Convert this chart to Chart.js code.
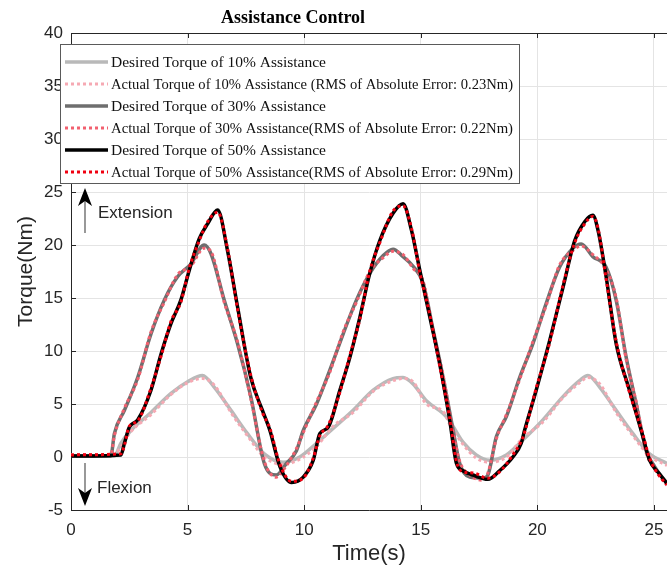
<!DOCTYPE html>
<html>
<head>
<meta charset="utf-8">
<title>Assistance Control</title>
<script src="https://cdn.jsdelivr.net/npm/chart.js@4.4.1/dist/chart.umd.min.js"></script>
<style>
  html, body { margin: 0; padding: 0; background: #fff; }
  canvas { display: block; }
</style>
</head>
<body>
<canvas id="torqueChart" width="667" height="571"></canvas>
<script>
// time stamps (s), one list per assistance level
const t10 = [0, 1.86, 2.14, 2.57, 3.43, 4.29, 5.0, 5.64, 6.14, 6.86, 7.57, 8.29, 9.1, 9.81, 10.53, 11.24, 12.1, 12.96, 13.81, 14.24, 14.67, 15.24, 15.96, 16.24, 16.81, 17.38, 17.95, 18.67, 19.38, 20.24, 21.1, 21.81, 22.17, 22.67, 23.38, 24.1, 24.81, 25.56];
const desired10 = [0.1, 0.1, 1.3, 2.5, 4.2, 6.0, 7.1, 7.7, 6.6, 4.4, 2.2, 0.3, -0.5, 0.0, 1.3, 2.7, 4.4, 6.3, 7.4, 7.5, 6.9, 5.3, 4.1, 3.4, 1.4, 0.2, -0.3, 0.2, 1.6, 3.5, 5.7, 7.2, 7.7, 6.6, 4.4, 2.2, 0.3, -0.6];
const actual10 = [0.2, 0.2, 1.0, 2.4, 4.0, 5.9, 7.0, 7.4, 6.8, 4.2, 2.0, 0.0, -0.7, -0.2, 1.0, 2.9, 4.2, 6.2, 7.2, 7.4, 7.1, 5.0, 4.3, 3.1, 1.2, -0.1, -0.5, 0.0, 1.8, 3.3, 5.6, 7.0, 7.5, 6.9, 4.2, 2.0, 0.1, -0.8];

const t30 = [0, 1.71, 1.86, 2.29, 2.86, 3.43, 4.0, 4.57, 5.14, 5.71, 6.0, 6.57, 7.14, 7.71, 8.29, 8.8, 9.24, 9.67, 9.96, 10.53, 11.1, 11.67, 12.24, 12.81, 13.39, 13.81, 14.24, 14.67, 15.1, 15.53, 15.96, 16.39, 16.67, 17.1, 17.67, 17.88, 18.24, 18.67, 19.24, 19.81, 20.38, 20.95, 21.53, 21.88, 22.38, 22.95, 23.38, 23.81, 24.24, 24.67, 25.03, 25.56];
const desired30 = [0.1, 0.1, 2.2, 4.4, 7.5, 11.6, 14.8, 17.0, 18.2, 20.0, 19.2, 14.8, 10.7, 5.7, -0.6, -1.7, -0.6, 0.6, 2.5, 5.0, 8.2, 11.6, 14.8, 17.3, 19.0, 19.6, 18.9, 18.0, 16.4, 12.0, 7.5, 2.5, -0.6, -1.9, -2.0, -1.7, 1.9, 3.8, 7.5, 10.7, 14.5, 17.9, 19.7, 20.1, 18.9, 17.9, 14.8, 9.4, 5.0, 0.6, -0.9, -2.5];
const actual30 = [0.2, 0.2, 2.0, 4.6, 7.3, 11.8, 14.6, 17.2, 18.0, 19.7, 19.4, 14.6, 10.9, 5.5, -0.4, -1.9, -0.8, 0.8, 2.3, 5.2, 8.0, 11.8, 14.6, 17.5, 18.8, 19.4, 19.1, 17.8, 16.6, 11.8, 7.7, 2.3, -0.4, -1.7, -2.2, -1.5, 1.7, 4.0, 7.3, 10.9, 14.3, 18.1, 19.5, 19.9, 19.1, 17.7, 15.0, 9.2, 5.2, 0.4, -1.1, -2.7];

const t50 = [0, 2.14, 2.29, 2.5, 2.86, 3.43, 3.86, 4.29, 4.71, 5.07, 5.5, 5.86, 6.29, 6.71, 7.14, 7.71, 8.21, 8.53, 8.96, 9.46, 9.96, 10.39, 10.67, 11.03, 11.53, 11.96, 12.39, 12.81, 13.24, 13.81, 14.24, 14.6, 14.96, 15.39, 15.81, 16.24, 16.53, 16.81, 17.24, 17.88, 18.38, 18.95, 19.31, 19.45, 19.95, 20.53, 21.1, 21.6, 22.03, 22.38, 22.6, 22.95, 23.38, 23.95, 24.53, 24.81, 25.24, 25.56];
const desired50 = [0.1, 0.2, 1.3, 2.8, 3.5, 6.3, 9.7, 12.6, 14.8, 17.6, 20.6, 22.0, 23.3, 19.5, 14.2, 7.5, 4.4, 2.5, -0.9, -2.4, -1.9, -0.3, 2.2, 2.8, 6.3, 9.4, 13.2, 17.3, 20.4, 23.0, 23.9, 21.4, 17.6, 13.2, 8.8, 3.5, -0.6, -1.3, -1.7, -2.1, -1.3, 0.0, 1.3, 2.5, 6.3, 11.0, 16.0, 20.4, 22.2, 22.8, 21.4, 17.0, 10.7, 6.3, 1.9, -0.3, -1.6, -2.5];
const actual50 = [0.2, 0.3, 1.1, 2.9, 3.4, 6.5, 9.5, 12.8, 14.6, 17.8, 20.4, 22.2, 23.1, 19.7, 14.0, 7.7, 4.2, 2.7, -0.7, -2.3, -2.0, -0.1, 2.0, 3.0, 6.1, 9.6, 13.0, 17.5, 20.2, 23.2, 23.7, 21.6, 17.4, 13.4, 8.6, 3.7, -0.4, -1.4, -1.5, -2.0, -1.4, 0.2, 1.5, 2.3, 6.5, 10.8, 16.2, 20.2, 22.0, 22.7, 21.6, 16.8, 10.9, 6.1, 2.1, -0.1, -1.8, -2.6];

const seriesLabels = [
  "Desired Torque of 10% Assistance",
  "Actual Torque of 10% Assistance (RMS of Absolute Error: 0.23Nm)",
  "Desired Torque of 30% Assistance",
  "Actual Torque of 30% Assistance(RMS of Absolute Error: 0.22Nm)",
  "Desired Torque of 50% Assistance",
  "Actual Torque of 50% Assistance(RMS of Absolute Error: 0.29Nm)",
];
const xTicks = [0, 5, 10, 15, 20, 25];
const yTicks = [-5, 0, 5, 10, 15, 20, 25, 30, 35, 40];

const toPoints = (xs, ys) => xs.map((x, i) => ({ x: x, y: ys[i] }));

function line(label, xs, ys, color, dotted, order) {
  return {
    label: label,
    data: toPoints(xs, ys),
    borderColor: color,
    borderWidth: dotted ? 3 : 3.5,
    borderDash: dotted ? [3, 3] : [],
    pointRadius: 0,
    cubicInterpolationMode: "monotone",
    fill: false,
    order: order, // later series sit on top, like the original plot
  };
}

// title, legend box, arrows and the inner tick marks of the axes box
const decorations = {
  id: "decorations",
  afterDraw(chart) {
    const ctx = chart.ctx;
    const area = chart.chartArea;
    const xs = chart.scales.x;
    const ys = chart.scales.y;
    ctx.save();

    // box top edge + inward ticks
    ctx.strokeStyle = "#262626";
    ctx.lineWidth = 1;
    ctx.beginPath();
    ctx.moveTo(area.left, area.top + 0.5);
    ctx.lineTo(area.right, area.top + 0.5);
    xTicks.forEach((v) => {
      const px = Math.round(xs.getPixelForValue(v)) + 0.5;
      ctx.moveTo(px, area.top);
      ctx.lineTo(px, area.top + 5);
      ctx.moveTo(px, area.bottom);
      ctx.lineTo(px, area.bottom - 5);
    });
    yTicks.forEach((v) => {
      const py = Math.round(ys.getPixelForValue(v)) + 0.5;
      ctx.moveTo(area.left, py);
      ctx.lineTo(area.left + 5, py);
    });
    ctx.stroke();

    // title
    ctx.fillStyle = "#000";
    ctx.font = "bold 18px 'Liberation Serif'";
    ctx.textAlign = "center";
    ctx.textBaseline = "middle";
    ctx.fillText("Assistance Control", 293, 18);

    // legend
    ctx.fillStyle = "#fff";
    ctx.fillRect(60, 44, 459, 139);
    ctx.strokeStyle = "#5a5a5a";
    ctx.strokeRect(60.5, 44.5, 459, 139);
    ctx.font = "15.5px 'Liberation Serif'";
    ctx.textAlign = "left";
    chart.data.datasets.forEach((ds, i) => {
      const y = 62 + i * 22;
      ctx.beginPath();
      ctx.strokeStyle = ds.borderColor;
      ctx.lineWidth = ds.borderWidth;
      ctx.setLineDash(ds.borderDash);
      ctx.moveTo(65, y);
      ctx.lineTo(108, y);
      ctx.stroke();
      ctx.setLineDash([]);
      ctx.fillStyle = "#111";
      ctx.fillText(ds.label, 111, y + 1, 402);
    });

    // extension / flexion arrows
    ctx.strokeStyle = "#555";
    ctx.lineWidth = 1.2;
    ctx.beginPath();
    ctx.moveTo(85, 233);
    ctx.lineTo(85, 200);
    ctx.moveTo(85, 463);
    ctx.lineTo(85, 494);
    ctx.stroke();
    ctx.fillStyle = "#000";
    ctx.beginPath();
    ctx.moveTo(85, 188);
    ctx.lineTo(92, 206);
    ctx.lineTo(85, 201);
    ctx.lineTo(78, 206);
    ctx.closePath();
    ctx.fill();
    ctx.beginPath();
    ctx.moveTo(85, 506);
    ctx.lineTo(92, 488);
    ctx.lineTo(85, 493);
    ctx.lineTo(78, 488);
    ctx.closePath();
    ctx.fill();

    ctx.fillStyle = "#262626";
    ctx.font = "17px 'Liberation Sans'";
    ctx.fillText("Extension", 98, 213);
    ctx.fillText("Flexion", 97, 488);
    ctx.restore();
  },
};

const tickFont = { family: "Liberation Sans", size: 17 };

new Chart(document.getElementById("torqueChart"), {
  type: "line",
  data: {
    datasets: [
      line(seriesLabels[0], t10, desired10, "#b9b9b9", false, 6),
      line(seriesLabels[1], t10, actual10, "#f6a9b3", true, 5),
      line(seriesLabels[2], t30, desired30, "#6e6e6e", false, 4),
      line(seriesLabels[3], t30, actual30, "#f2606f", true, 3),
      line(seriesLabels[4], t50, desired50, "#000000", false, 2),
      line(seriesLabels[5], t50, actual50, "#f00010", true, 1),
    ],
  },
  options: {
    responsive: false,
    animation: false,
    layout: { padding: { top: 33, right: 0, left: 0, bottom: 0 } },
    scales: {
      x: {
        type: "linear",
        min: 0,
        max: 25.56,
        afterBuildTicks: (s) => { s.ticks = xTicks.map((v) => ({ value: v })); },
        afterFit: (s) => { s.height = 61; s.paddingRight = 0; s.paddingLeft = 0; },
        ticks: { font: tickFont, color: "#262626", padding: 10, maxRotation: 0 },
        grid: { color: "#e4e4e4", drawTicks: false },
        border: { color: "#262626" },
        title: {
          display: true,
          text: "Time(s)",
          font: { family: "Liberation Sans", size: 22 },
          color: "#262626",
          padding: { top: 0, bottom: 4 },
        },
      },
      y: {
        min: -5,
        max: 40,
        afterBuildTicks: (s) => { s.ticks = yTicks.map((v) => ({ value: v })); },
        afterFit: (s) => { s.width = 71; s.paddingTop = 0; s.paddingBottom = 0; },
        ticks: { font: tickFont, color: "#262626", padding: 8 },
        grid: { color: "#e4e4e4", drawTicks: false },
        border: { color: "#262626" },
        title: {
          display: true,
          text: "Torque(Nm)",
          font: { family: "Liberation Sans", size: 21 },
          color: "#262626",
          padding: { top: 14, bottom: 0 },
        },
      },
    },
    plugins: {
      legend: { display: false },
      tooltip: { enabled: false },
    },
  },
  plugins: [decorations],
});
</script>
</body>
</html>
